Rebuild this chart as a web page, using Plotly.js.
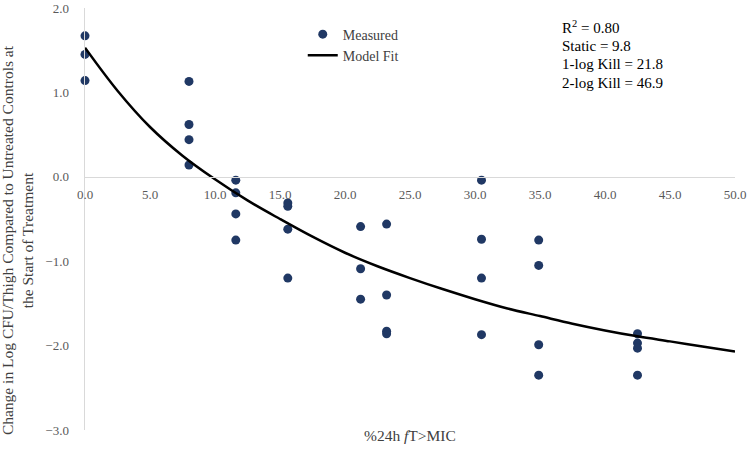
<!DOCTYPE html>
<html>
<head>
<meta charset="utf-8">
<script src="https://cdn.plot.ly/plotly-3.0.1.min.js"></script>
<style>html,body{margin:0;padding:0;background:#fff;}#chart{width:750px;height:452px;}</style>
</head>
<body>
<div id="chart"></div>
<script>
// Measured data points (%24h fT>MIC vs change in log CFU/thigh)
var measuredX = [0, 0, 0,
  8.0, 8.0, 8.0, 8.0,
  11.6, 11.6, 11.6, 11.6,
  15.6, 15.6, 15.6, 15.6,
  21.2, 21.2, 21.2,
  23.2, 23.2, 23.2, 23.2,
  30.5, 30.5, 30.5, 30.5,
  34.9, 34.9, 34.9, 34.9,
  42.5, 42.5, 42.5, 42.5];
var measuredY = [1.67, 1.45, 1.14,
  1.13, 0.62, 0.44, 0.14,
  -0.04, -0.19, -0.44, -0.75,
  -0.31, -0.35, -0.62, -1.20,
  -0.59, -1.09, -1.45,
  -0.56, -1.40, -1.83, -1.86,
  -0.04, -0.74, -1.20, -1.87,
  -0.75, -1.05, -1.99, -2.35,
  -1.86, -1.97, -2.03, -2.35];
// Model fit curve
var fitX = [0, 2.5, 5, 7.5, 10, 12.5, 15, 17.5, 20, 22.5, 25, 27.5, 30, 32.5, 35, 37.5, 40, 42.5, 45, 47.5, 50];
var fitY = [1.53, 1.02, 0.59, 0.25, -0.03, -0.28, -0.50, -0.71, -0.90, -1.06, -1.20, -1.33, -1.45, -1.56, -1.65, -1.74, -1.82, -1.89, -1.95, -2.01, -2.07];
var statsLines = ["R<sup>2</sup> = 0.80", "Static = 9.8", "1-log Kill = 21.8", "2-log Kill = 46.9"];
var xTitle = "%24h <i>f</i>T>MIC";
var yTitle = "Change in Log CFU/Thigh Compared to Untreated Controls at<br>the Start of Treatment";

var FONT = "Liberation Serif";

var traces = [
  {x: measuredX, y: measuredY, type: 'scatter', mode: 'markers', name: 'Measured',
   marker: {color: '#203864', size: 9}, cliponaxis: false},
  {x: fitX, y: fitY, type: 'scatter', mode: 'lines', name: 'Model Fit',
   line: {color: '#000000', width: 2.5, shape: 'spline', smoothing: 1}, cliponaxis: false}
];

var annotations = [
  {xref: 'paper', yref: 'paper', x: 0.5, y: -0.012, xanchor: 'center', yanchor: 'middle',
   text: xTitle, showarrow: false, font: {family: FONT, size: 15.5, color: '#404040'}},
  {xref: 'paper', yref: 'paper', x: -0.1046, y: 0.45, xanchor: 'center', yanchor: 'middle',
   textangle: -90, text: yTitle, showarrow: false,
   font: {family: FONT, size: 15.5, color: '#404040'}}
];
statsLines.forEach(function (t, i) {
  annotations.push({xref: 'paper', yref: 'paper', x: 0.7308, y: 0.955 - i * 0.0443,
    xanchor: 'left', yanchor: 'middle', align: 'left', text: t, showarrow: false,
    font: {family: FONT, size: 15, color: '#000000'}});
});

var layout = {
  width: 750, height: 452,
  margin: {l: 85, r: 15, t: 8, b: 22},
  paper_bgcolor: '#ffffff', plot_bgcolor: '#ffffff',
  font: {family: FONT, size: 13, color: '#595959'},
  showlegend: true,
  legend: {x: 0.335, y: 0.975, xanchor: 'left', yanchor: 'top',
           bgcolor: 'rgba(0,0,0,0)', font: {family: FONT, size: 14, color: '#404040'}},
  xaxis: {range: [0, 50], dtick: 5, tick0: 0, tickformat: '.1f',
          anchor: 'free', position: 0.6,
          showline: true, linecolor: '#d9d9d9', linewidth: 1.5,
          showgrid: false, zeroline: false, ticks: '', ticklabelstandoff: 5,
          tickfont: {family: FONT, size: 13, color: '#595959'}},
  yaxis: {range: [-3, 2], dtick: 1, tick0: 0, tickformat: '.1f',
          showline: true, linecolor: '#d9d9d9', linewidth: 1.5,
          showgrid: false, zeroline: false, ticks: '', ticklabelstandoff: 12,
          tickfont: {family: FONT, size: 13, color: '#595959'}},
  annotations: annotations
};

Plotly.newPlot('chart', traces, layout, {displayModeBar: false, staticPlot: true});
</script>
</body>
</html>
